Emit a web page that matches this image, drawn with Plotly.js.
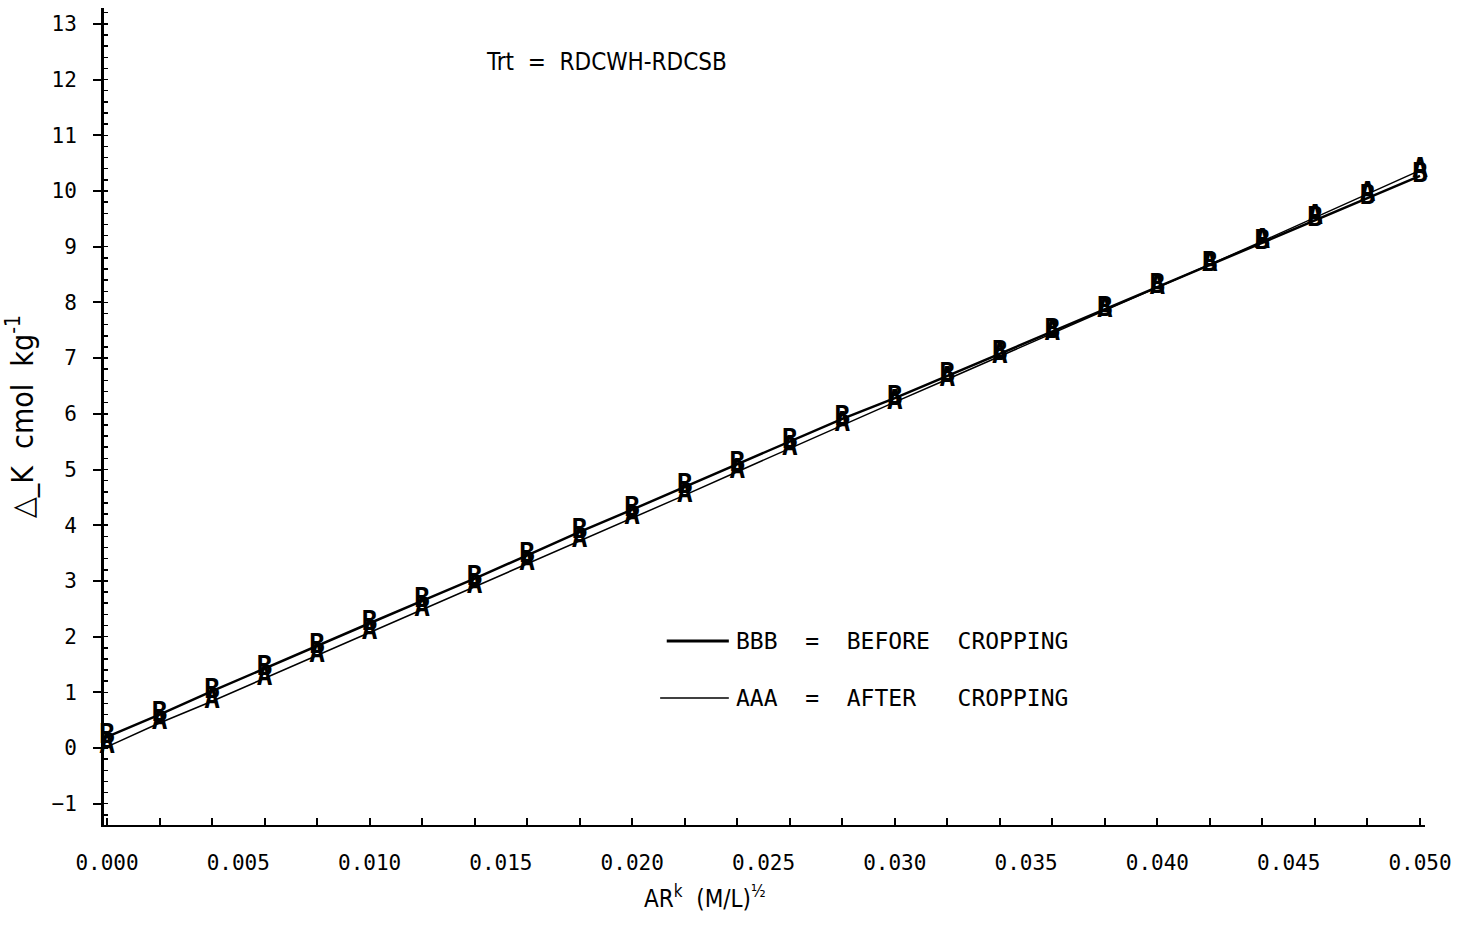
<!DOCTYPE html>
<html>
<head>
<meta charset="utf-8">
<script src="https://cdn.plot.ly/plotly-3.0.1.min.js"></script>
<style>html,body{margin:0;padding:0;background:#fff;}#chart{width:1469px;height:931px;}</style>
</head>
<body>
<div id="chart"></div>
<script>
// Data
const arK = [0.000, 0.002, 0.004, 0.006, 0.008, 0.010, 0.012, 0.014, 0.016, 0.018,
             0.020, 0.022, 0.024, 0.026, 0.028, 0.030, 0.032, 0.034, 0.036, 0.038,
             0.040, 0.042, 0.044, 0.046, 0.048, 0.050];
const beforeCropping = [0.20, 0.60, 1.02, 1.43, 1.83, 2.24, 2.64, 3.04, 3.46, 3.88,
                        4.28, 4.69, 5.09, 5.50, 5.91, 6.28, 6.68, 7.08, 7.48, 7.88,
                        8.28, 8.68, 9.08, 9.48, 9.88, 10.27];
const afterCropping = [0.02, 0.45, 0.84, 1.25, 1.66, 2.07, 2.49, 2.90, 3.31, 3.72,
                       4.13, 4.54, 4.96, 5.38, 5.80, 6.21, 6.62, 7.03, 7.44, 7.85,
                       8.26, 8.68, 9.10, 9.52, 9.94, 10.37];
const xTickVals = [0.000, 0.005, 0.010, 0.015, 0.020, 0.025, 0.030, 0.035, 0.040, 0.045, 0.050];
const xTickText = ["0.000","0.005","0.010","0.015","0.020","0.025","0.030","0.035","0.040","0.045","0.050"];
const yTickVals = [-1,0,1,2,3,4,5,6,7,8,9,10,11,12,13];
const yTickText = ["\u22121","0","1","2","3","4","5","6","7","8","9","10","11","12","13"];
const legendB = "BBB  =  BEFORE  CROPPING";
const legendA = "AAA  =  AFTER   CROPPING";
const treatment = "Trt  =  RDCWH-RDCSB";
const xTitle = "AR<sup>k</sup>  (M/L)<sup>\u00bd</sup>";
const yTitle = "\u25b3_K  cmol  kg<sup>-1</sup>";

const markFont = {family: "DejaVu Sans Mono, monospace", size: 26, color: "#000", weight: 700};
const labelFont = {family: "DejaVu Sans Mono, monospace", size: 21, color: "#000"};
const legendFont = {family: "DejaVu Sans Mono, monospace", size: 23, color: "#000"};
const narrowFont = {family: "DejaVu Sans Condensed, Liberation Sans Narrow, sans-serif", size: 24, color: "#000"};

const traces = [
  {
    x: arK, y: beforeCropping, mode: "lines+text", text: arK.map(() => "B"),
    textposition: "middle center", textfont: markFont,
    line: {color: "#000", width: 2.5}, showlegend: false, cliponaxis: false, hoverinfo: "x+y"
  },
  {
    x: arK, y: afterCropping, mode: "lines+text", text: arK.map(() => "A"),
    textposition: "middle center", textfont: markFont,
    line: {color: "#000", width: 1.5}, showlegend: false, cliponaxis: false, hoverinfo: "x+y"
  }
];

const layout = {
  width: 1469, height: 931,
  paper_bgcolor: "#fff", plot_bgcolor: "#fff",
  margin: {l: 104, r: 44, t: 8, b: 106},
  showlegend: false,
  xaxis: {
    range: [-0.000114, 0.05019],
    tickvals: xTickVals, ticktext: xTickText,
    ticks: "inside", ticklen: 0, tickcolor: "#000",
    minor: {dtick: 0.002, tick0: 0, ticks: "inside", ticklen: 7, tickwidth: 2, tickcolor: "#000"},
    showline: true, linewidth: 2, linecolor: "#000",
    showgrid: false, zeroline: false,
    tickfont: labelFont, ticklabelstandoff: 18
  },
  yaxis: {
    range: [-1.382, 13.285],
    tickvals: yTickVals, ticktext: yTickText,
    ticks: "outside", ticklen: 8, tickwidth: 2, tickcolor: "#000",
    minor: {dtick: 0.2, tick0: 0, ticks: "inside", ticklen: 4, tickwidth: 1.5, tickcolor: "#000"},
    showline: true, linewidth: 3, linecolor: "#000",
    showgrid: false, zeroline: false,
    tickfont: labelFont, ticklabelstandoff: 12,
    title: {text: yTitle, font: {family: narrowFont.family, size: 30, color: "#000"}, standoff: 10}
  },
  shapes: [
    {type: "line", xref: "paper", yref: "paper", x0: 0.426, x1: 0.473, y0: 0.2252, y1: 0.2252, line: {color: "#000", width: 3}},
    {type: "line", xref: "paper", yref: "paper", x0: 0.421, x1: 0.473, y0: 0.1554, y1: 0.1554, line: {color: "#000", width: 1.5}}
  ],
  annotations: [
    {xref: "paper", yref: "paper", x: 0.477, y: 0.2252, xanchor: "left", yanchor: "middle", text: legendB, showarrow: false, font: legendFont},
    {xref: "paper", yref: "paper", x: 0.477, y: 0.1554, xanchor: "left", yanchor: "middle", text: legendA, showarrow: false, font: legendFont},
    {xref: "paper", yref: "paper", x: 0.288, y: 0.934, xanchor: "left", yanchor: "middle", text: treatment, showarrow: false, font: narrowFont},
    {xref: "paper", yref: "paper", x: 0.455, y: -0.088, xanchor: "center", yanchor: "middle", text: xTitle, showarrow: false, font: narrowFont}
  ]
};

Plotly.newPlot("chart", traces, layout, {staticPlot: true, displayModeBar: false});
</script>
</body>
</html>
